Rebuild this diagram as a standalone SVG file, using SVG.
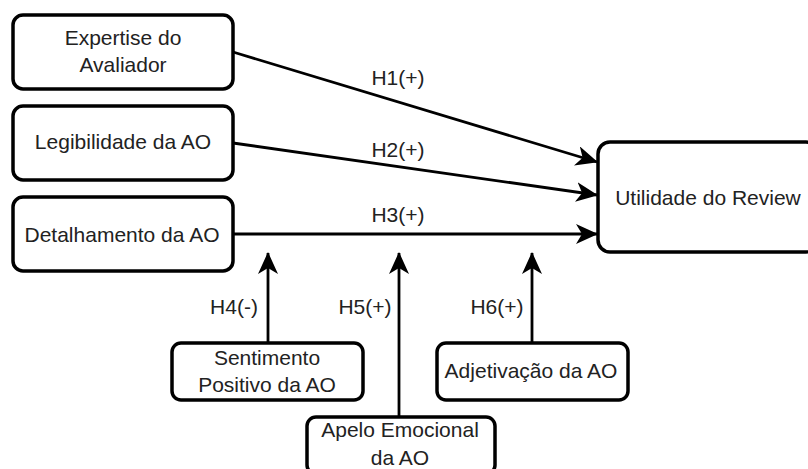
<svg xmlns="http://www.w3.org/2000/svg" width="808" height="469" viewBox="0 0 808 469">
<style>
.box{fill:#fff;stroke:#000;stroke-width:3.5}
.t{font-family:"Liberation Sans",Arial,sans-serif;font-size:21px;fill:#222;text-anchor:middle}
.e{fill:none;stroke:#000;stroke-width:2.8}
</style>
<defs>
<marker id="ah" markerUnits="userSpaceOnUse" viewBox="0 0 22 20" refX="21" refY="10" markerWidth="22" markerHeight="20" orient="auto">
<path d="M0,0 L22,10 L0,20 L6,10 Z" fill="#000"/>
</marker>
</defs>
<rect width="808" height="469" fill="#fff"/>
<g id="connectors">
<path class="e" d="M233,52 L597,162" marker-end="url(#ah)"/>
<path class="e" d="M233,143 L597,195" marker-end="url(#ah)"/>
<path class="e" d="M233,234 L597,234" marker-end="url(#ah)"/>
<path class="e" d="M268,343 L268,253" marker-end="url(#ah)"/>
<path class="e" d="M399,417 L399,253" marker-end="url(#ah)"/>
<path class="e" d="M532,343 L532,253" marker-end="url(#ah)"/>
<text class="t" x="398" y="85">H1(+)</text>
<text class="t" x="398" y="157">H2(+)</text>
<text class="t" x="398" y="222">H3(+)</text>
<text class="t" x="234" y="314">H4(-)</text>
<text class="t" x="365" y="314">H5(+)</text>
<text class="t" x="497" y="314">H6(+)</text>
</g>
<g id="expertise">
<rect class="box" x="13" y="15" width="220" height="74" rx="10"/>
<text class="t" x="123" y="45">Expertise do</text>
<text class="t" x="123" y="72">Avaliador</text>
</g>
<g id="legibilidade">
<rect class="box" x="13" y="106" width="220" height="74" rx="10"/>
<text class="t" x="123" y="149">Legibilidade da AO</text>
</g>
<g id="detalhamento">
<rect class="box" x="13" y="197" width="220" height="74" rx="10"/>
<text class="t" x="122" y="242">Detalhamento da AO</text>
</g>
<g id="utilidade">
<rect class="box" x="598" y="142" width="220" height="110" rx="12"/>
<text class="t" x="708" y="205">Utilidade do Review</text>
</g>
<g id="sentimento">
<rect class="box" x="172" y="343" width="191" height="57" rx="9"/>
<text class="t" x="267" y="365">Sentimento</text>
<text class="t" x="267" y="392">Positivo da AO</text>
</g>
<g id="adjetivacao">
<rect class="box" x="437" y="343" width="191" height="57" rx="9"/>
<text class="t" x="531" y="378">Adjetivação da AO</text>
</g>
<g id="apelo">
<rect class="box" x="307" y="417" width="188" height="57" rx="9"/>
<text class="t" x="400" y="437">Apelo Emocional</text>
<text class="t" x="400" y="465">da AO</text>
</g>
</svg>
